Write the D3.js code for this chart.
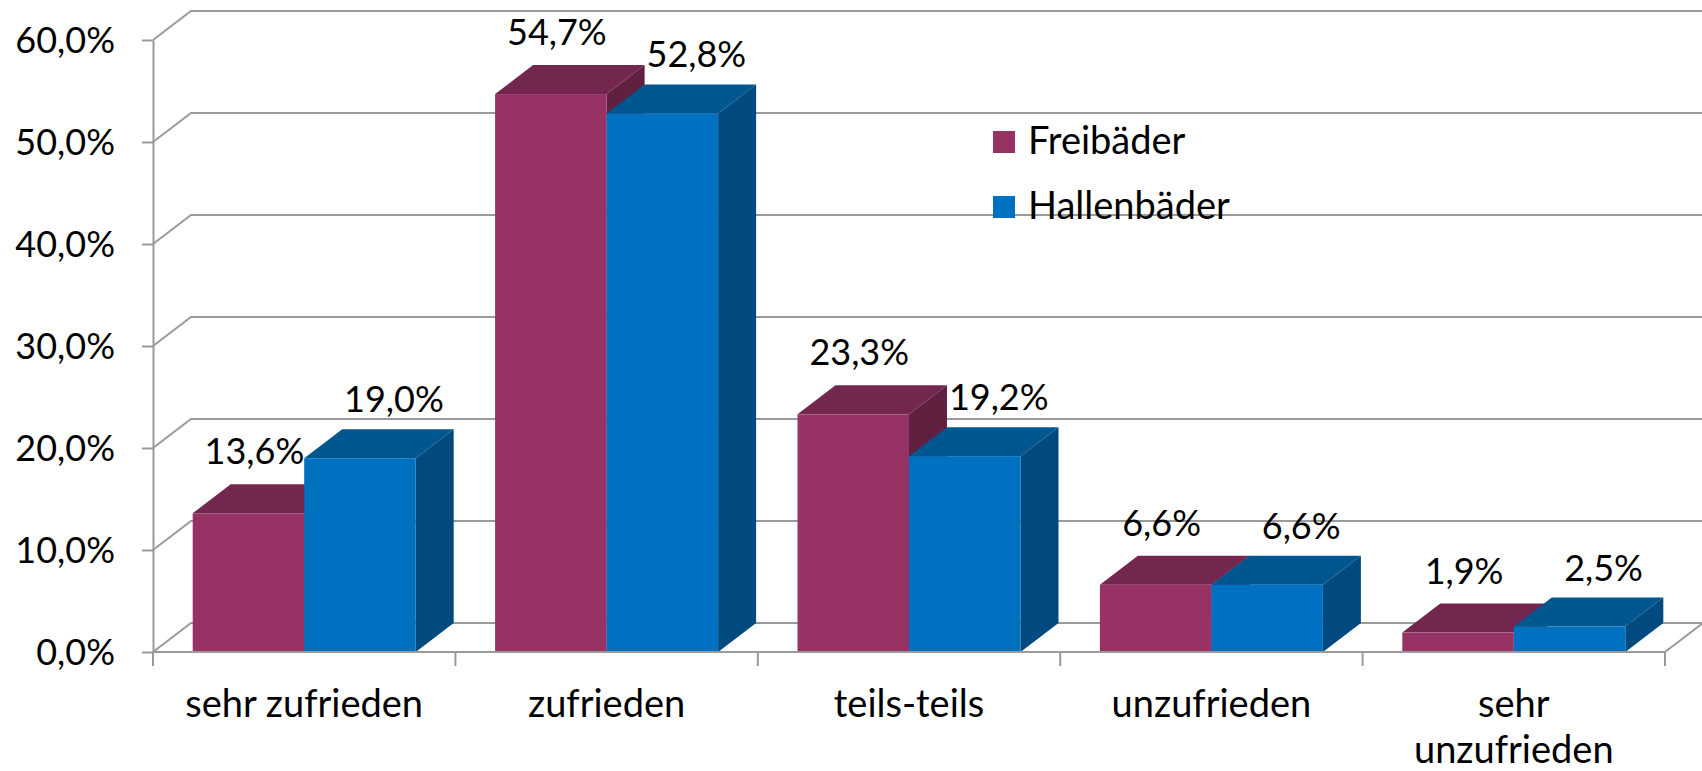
<!DOCTYPE html>
<html>
<head>
<meta charset="utf-8">
<script src="https://cdn.jsdelivr.net/npm/d3@7"></script>
<style>
  body { margin: 0; background: #fff; }
  text { font-family: Lato, "Liberation Sans", sans-serif; fill: #000; }
</style>
</head>
<body>
<div id="chart"></div>
<script>
const categories = ["sehr zufrieden", "zufrieden", "teils-teils", "unzufrieden", "sehr unzufrieden"];
const seriesNames = ["Freibäder", "Hallenbäder"];
const freibaeder = [13.6, 54.7, 23.3, 6.6, 1.9];
const hallenbaeder = [19.0, 52.8, 19.2, 6.6, 2.5];
const yTicks = [0, 10, 20, 30, 40, 50, 60];

const W = 1702, H = 771;
const plot = { left: 153, right: 1665, top: 40, bottom: 652 };
const depth = { dx: 38, dy: 29 };
const numFont = 36;
const textFont = 38;
const gridColor = "#9a9a9a";

const colors = [
  { front: "#973264", top: "#73264e", side: "#60203f" },
  { front: "#0070c0", top: "#00568f", side: "#004a80" }
];
const labelShift = [6, 34];   // value label offset from front centre
const labelLift = [20, 17];

const de = d3.formatLocale({ decimal: ",", thousands: ".", grouping: [3], currency: ["", " €"] });
const fmt = de.format(".1f");

const svg = d3.select("#chart").append("svg")
  .attr("width", W)
  .attr("height", H);

const y = d3.scaleLinear()
  .domain([0, 60])
  .range([plot.bottom, plot.top]);

const x0 = d3.scaleBand()
  .domain(categories)
  .range([plot.left, plot.right])
  .paddingInner(0);

const x1 = d3.scaleBand()
  .domain(seriesNames)
  .range([0, x0.bandwidth()])
  .paddingInner(0)
  .paddingOuter(0.356);

// back wall gridlines with left wall diagonals
const grid = svg.append("g");
yTicks.forEach(t => {
  grid.append("path")
    .attr("d", `M${plot.left},${y(t)} L${plot.left + depth.dx},${y(t) - depth.dy} L${plot.right + depth.dx},${y(t) - depth.dy}`)
    .attr("fill", "none")
    .attr("stroke", gridColor)
    .attr("stroke-width", 2);
});

// floor right edge
svg.append("line")
  .attr("x1", plot.right).attr("y1", plot.bottom)
  .attr("x2", plot.right + depth.dx).attr("y2", plot.bottom - depth.dy)
  .attr("stroke", gridColor).attr("stroke-width", 2);

// bars
const rows = categories.map((c, i) => ({ cat: c, vals: [freibaeder[i], hallenbaeder[i]] }));

rows.forEach(r => {
  r.vals.forEach((v, s) => {
    const xa = x0(r.cat) + x1(seriesNames[s]);
    const xb = xa + x1.bandwidth();
    const yt = y(v), yb = y(0);
    const g = svg.append("g");
    // side
    g.append("path")
      .attr("d", `M${xb},${yt} L${xb + depth.dx},${yt - depth.dy} L${xb + depth.dx},${yb - depth.dy} L${xb},${yb} Z`)
      .attr("fill", colors[s].side);
    // top
    g.append("path")
      .attr("d", `M${xa},${yt} L${xa + depth.dx},${yt - depth.dy} L${xb + depth.dx},${yt - depth.dy} L${xb},${yt} Z`)
      .attr("fill", colors[s].top);
    // front
    g.append("rect")
      .attr("x", xa)
      .attr("y", yt)
      .attr("width", xb - xa)
      .attr("height", yb - yt)
      .attr("fill", colors[s].front);
  });
});

// value labels
rows.forEach(r => {
  r.vals.forEach((v, s) => {
    const xa = x0(r.cat) + x1(seriesNames[s]);
    svg.append("text")
      .attr("x", xa + x1.bandwidth() / 2 + labelShift[s])
      .attr("y", y(v) - depth.dy - labelLift[s])
      .attr("text-anchor", "middle")
      .style("font-size", numFont + "px")
      .text(fmt(v) + "%");
  });
});

// y axis
const yAxis = svg.append("g")
  .attr("transform", `translate(${plot.left},0)`)
  .call(d3.axisLeft(y).tickValues(yTicks).tickSize(11).tickSizeOuter(0).tickPadding(27)
    .tickFormat(d => fmt(d) + "%"));
yAxis.select(".domain").attr("stroke", gridColor).attr("stroke-width", 2);
yAxis.selectAll(".tick line").attr("stroke", gridColor).attr("stroke-width", 2);
yAxis.selectAll(".tick text")
  .attr("dy", "0.35em")
  .style("font-size", numFont + "px")
  .style("font-family", "Lato, 'Liberation Sans', sans-serif")
  .attr("fill", "#000");

// x axis: front floor line, boundary ticks, labels
const bounds = categories.map(c => x0(c)).concat([plot.right]);
svg.append("line")
  .attr("x1", plot.left).attr("y1", plot.bottom)
  .attr("x2", plot.right).attr("y2", plot.bottom)
  .attr("stroke", gridColor).attr("stroke-width", 2);
svg.selectAll(".xtick")
  .data(bounds)
  .enter().append("line")
  .attr("class", "xtick")
  .attr("x1", d => d).attr("x2", d => d)
  .attr("y1", plot.bottom).attr("y2", plot.bottom + 14)
  .attr("stroke", gridColor).attr("stroke-width", 2);

const catLines = {
  "sehr unzufrieden": ["sehr", "unzufrieden"]
};
categories.forEach(c => {
  const lines = catLines[c] || [c];
  const t = svg.append("text")
    .attr("x", x0(c) + x0.bandwidth() / 2)
    .attr("y", 717)
    .attr("text-anchor", "middle")
    .style("font-size", textFont + "px");
  lines.forEach((l, i) => {
    t.append("tspan")
      .attr("x", x0(c) + x0.bandwidth() / 2)
      .attr("dy", i === 0 ? 0 : 46)
      .text(l);
  });
});

// legend
const legend = svg.append("g").attr("transform", "translate(993,131)");
seriesNames.forEach((n, i) => {
  legend.append("rect")
    .attr("x", 0).attr("y", i * 65)
    .attr("width", 22).attr("height", 22)
    .attr("fill", colors[i].front);
  legend.append("text")
    .attr("x", 35).attr("y", i * 65 + 23)
    .style("font-size", textFont + "px")
    .text(n);
});
</script>
</body>
</html>
